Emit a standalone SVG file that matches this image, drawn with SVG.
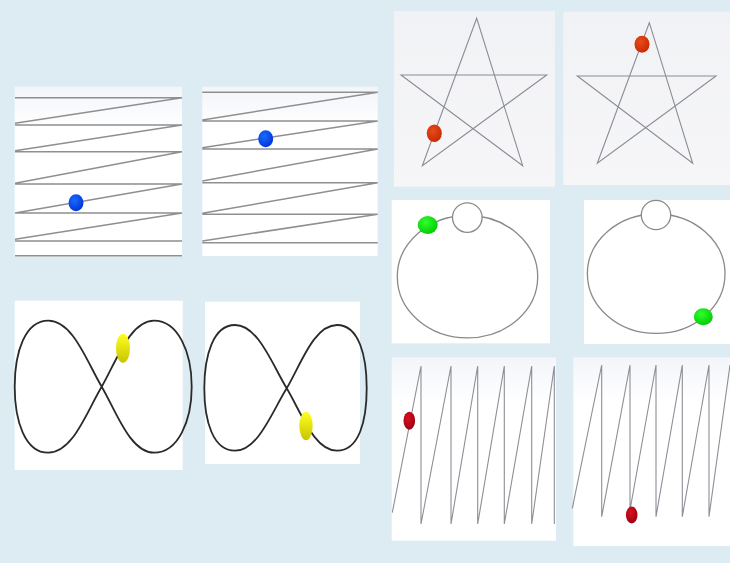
<svg xmlns="http://www.w3.org/2000/svg" width="730" height="563" viewBox="0 0 730 563">
<defs>
<linearGradient id="panel" x1="0" y1="0" x2="0" y2="1"><stop offset="0" stop-color="#f3f5fa"/><stop offset="0.25" stop-color="#ffffff"/><stop offset="1" stop-color="#ffffff"/></linearGradient>
<linearGradient id="gpanel" x1="0" y1="0" x2="0" y2="1"><stop offset="0" stop-color="#f1f2f5"/><stop offset="1" stop-color="#f6f6f8"/></linearGradient>
<radialGradient id="blue" cx="0.4" cy="0.35" r="0.7"><stop offset="0" stop-color="#1a6cff"/><stop offset="1" stop-color="#0030d8"/></radialGradient>
<radialGradient id="red" cx="0.4" cy="0.35" r="0.7"><stop offset="0" stop-color="#e84a1a"/><stop offset="1" stop-color="#c82800"/></radialGradient>
<radialGradient id="green" cx="0.4" cy="0.35" r="0.7"><stop offset="0" stop-color="#30ff30"/><stop offset="1" stop-color="#00c800"/></radialGradient>
<linearGradient id="yellow" x1="0" y1="0" x2="0" y2="1"><stop offset="0" stop-color="#ffff20"/><stop offset="1" stop-color="#c8c400"/></linearGradient>
<radialGradient id="dred" cx="0.4" cy="0.35" r="0.7"><stop offset="0" stop-color="#d81020"/><stop offset="1" stop-color="#9a0010"/></radialGradient>
</defs>
<style>
.panel{fill:url(#panel)}
.gpanel{fill:url(#gpanel)}
.zz{fill:none;stroke:#8f8f8f;stroke-width:1.5}
.star{fill:none;stroke:#8c8c96;stroke-width:1.1;stroke-linejoin:miter}
.orb{fill:none;stroke:#8a8a8a;stroke-width:1.3}
.eight{fill:none;stroke:#2a2a2a;stroke-width:1.8}
.saw{fill:none;stroke:#8e8e96;stroke-width:1.1}
</style>
<rect x="0" y="0" width="730" height="563" fill="#dcecf2"/>

<g id="panel-zigzag-1">
<rect class="panel" x="14.7" y="86.7" width="167.3" height="170"/>
<path class="zz" d="M15,97.7 H182 L15,123.3 M15,125 H182 L15,150.7 M15,151.7 H182 L15,183.3 M15,184 H182 L15,213 M15,213 H182 L15,239.3 M15,241 H182 M15,255.7 H182"/>
<ellipse cx="76" cy="202.7" rx="7.5" ry="8.5" fill="url(#blue)"/>
</g>

<g id="panel-zigzag-2">
<rect class="panel" x="202.3" y="86.7" width="175.4" height="169.3"/>
<path class="zz" d="M202.3,92.3 H377.7 L202.3,120 M202.3,121 H377.7 L202.3,147.7 M202.3,149 H377.7 L202.3,181 M202.3,182.7 H377.7 L202.3,213.3 M202.3,214.3 H377.7 L202.3,241 M202.3,242.7 H377.7"/>
<ellipse cx="265.7" cy="138.7" rx="7.5" ry="8.5" fill="url(#blue)"/>
</g>

<g id="panel-star-1">
<rect class="gpanel" x="394" y="11" width="161" height="175.7"/>
<path class="star" d="M476.7,18.3 L422.3,165.7 L546.7,75 L401,75 L522.7,165.7 Z"/>
<ellipse cx="434.3" cy="133.3" rx="7.5" ry="8.8" fill="url(#red)"/>
</g>

<g id="panel-star-2">
<rect class="gpanel" x="563.3" y="11.7" width="166.7" height="173.3"/>
<path class="star" d="M649.3,22.7 L597.3,163.3 L716,76 L577.3,76 L692.7,163.3 Z"/>
<ellipse cx="642" cy="44.3" rx="7.5" ry="8.5" fill="url(#red)"/>
</g>

<g id="panel-orbit-1">
<rect x="391.7" y="200" width="158.3" height="143.3" fill="#ffffff"/>
<ellipse class="orb" cx="467.5" cy="276.7" rx="70.2" ry="61.2"/>
<circle cx="467.3" cy="217.6" r="14.8" fill="#ffffff" stroke="#8a8a8a" stroke-width="1.3"/>
<ellipse cx="427.7" cy="225" rx="10" ry="9" fill="url(#green)"/>
</g>

<g id="panel-orbit-2">
<rect x="584" y="200" width="146" height="144" fill="#ffffff"/>
<ellipse class="orb" cx="656.2" cy="273.7" rx="68.8" ry="59.7"/>
<circle cx="656" cy="215" r="14.7" fill="#ffffff" stroke="#8a8a8a" stroke-width="1.3"/>
<ellipse cx="703.3" cy="316.7" rx="9.5" ry="8.5" fill="url(#green)"/>
</g>

<g id="panel-eight-1">
<rect x="14.7" y="300.7" width="168" height="169.3" fill="#ffffff"/>
<path class="eight" d="M101.7,386.7 C116,362 130,320.7 154,320.7 C178,320.7 191.7,352 191.7,386.7 C191.7,421 178,452.7 154,452.7 C130,452.7 116,411 101.7,386.7 C87,362 73,320.7 48.3,320.7 C25,320.7 14.7,352 14.7,386.7 C14.7,421 25,452.7 48.3,452.7 C73,452.7 87,411 101.7,386.7 Z"/>
<ellipse cx="123" cy="348.3" rx="7" ry="14.5" fill="url(#yellow)"/>
</g>

<g id="panel-eight-2">
<rect x="205" y="301.7" width="155" height="162.3" fill="#ffffff"/>
<path class="eight" d="M286.7,388.3 C301,364 314,325 337,325 C359,325 366.7,356 366.7,388.3 C366.7,421 359,450.7 337,450.7 C314,450.7 301,412 286.7,388.3 C272,364 258,325 235,325 C213,325 204.3,356 204.3,388.3 C204.3,421 213,450.7 235,450.7 C258,450.7 272,412 286.7,388.3 Z"/>
<ellipse cx="306" cy="426" rx="6.7" ry="14.3" fill="url(#yellow)"/>
</g>

<g id="panel-saw-1">
<rect class="panel" x="391.7" y="357.3" width="164.3" height="183.4"/>
<path class="saw" d="M392.3,512.7 L421,366 V524 L451,366 V524 L477.7,366 V524 L504.3,366 V524 L531.7,366 V524 L554.3,366 V524"/>
<ellipse cx="409.3" cy="420.7" rx="5.8" ry="9" fill="url(#dred)"/>
</g>

<g id="panel-saw-2">
<rect class="panel" x="573.3" y="357.3" width="156.7" height="188.7"/>
<path class="saw" d="M572.3,508.3 L601.7,365 V516.7 L630,365 V510 L656,365 V516.7 L682.3,365 V516.7 L709,365 V516.7 L730,365"/>
<ellipse cx="631.7" cy="515" rx="5.8" ry="8.5" fill="url(#dred)"/>
</g>
</svg>
